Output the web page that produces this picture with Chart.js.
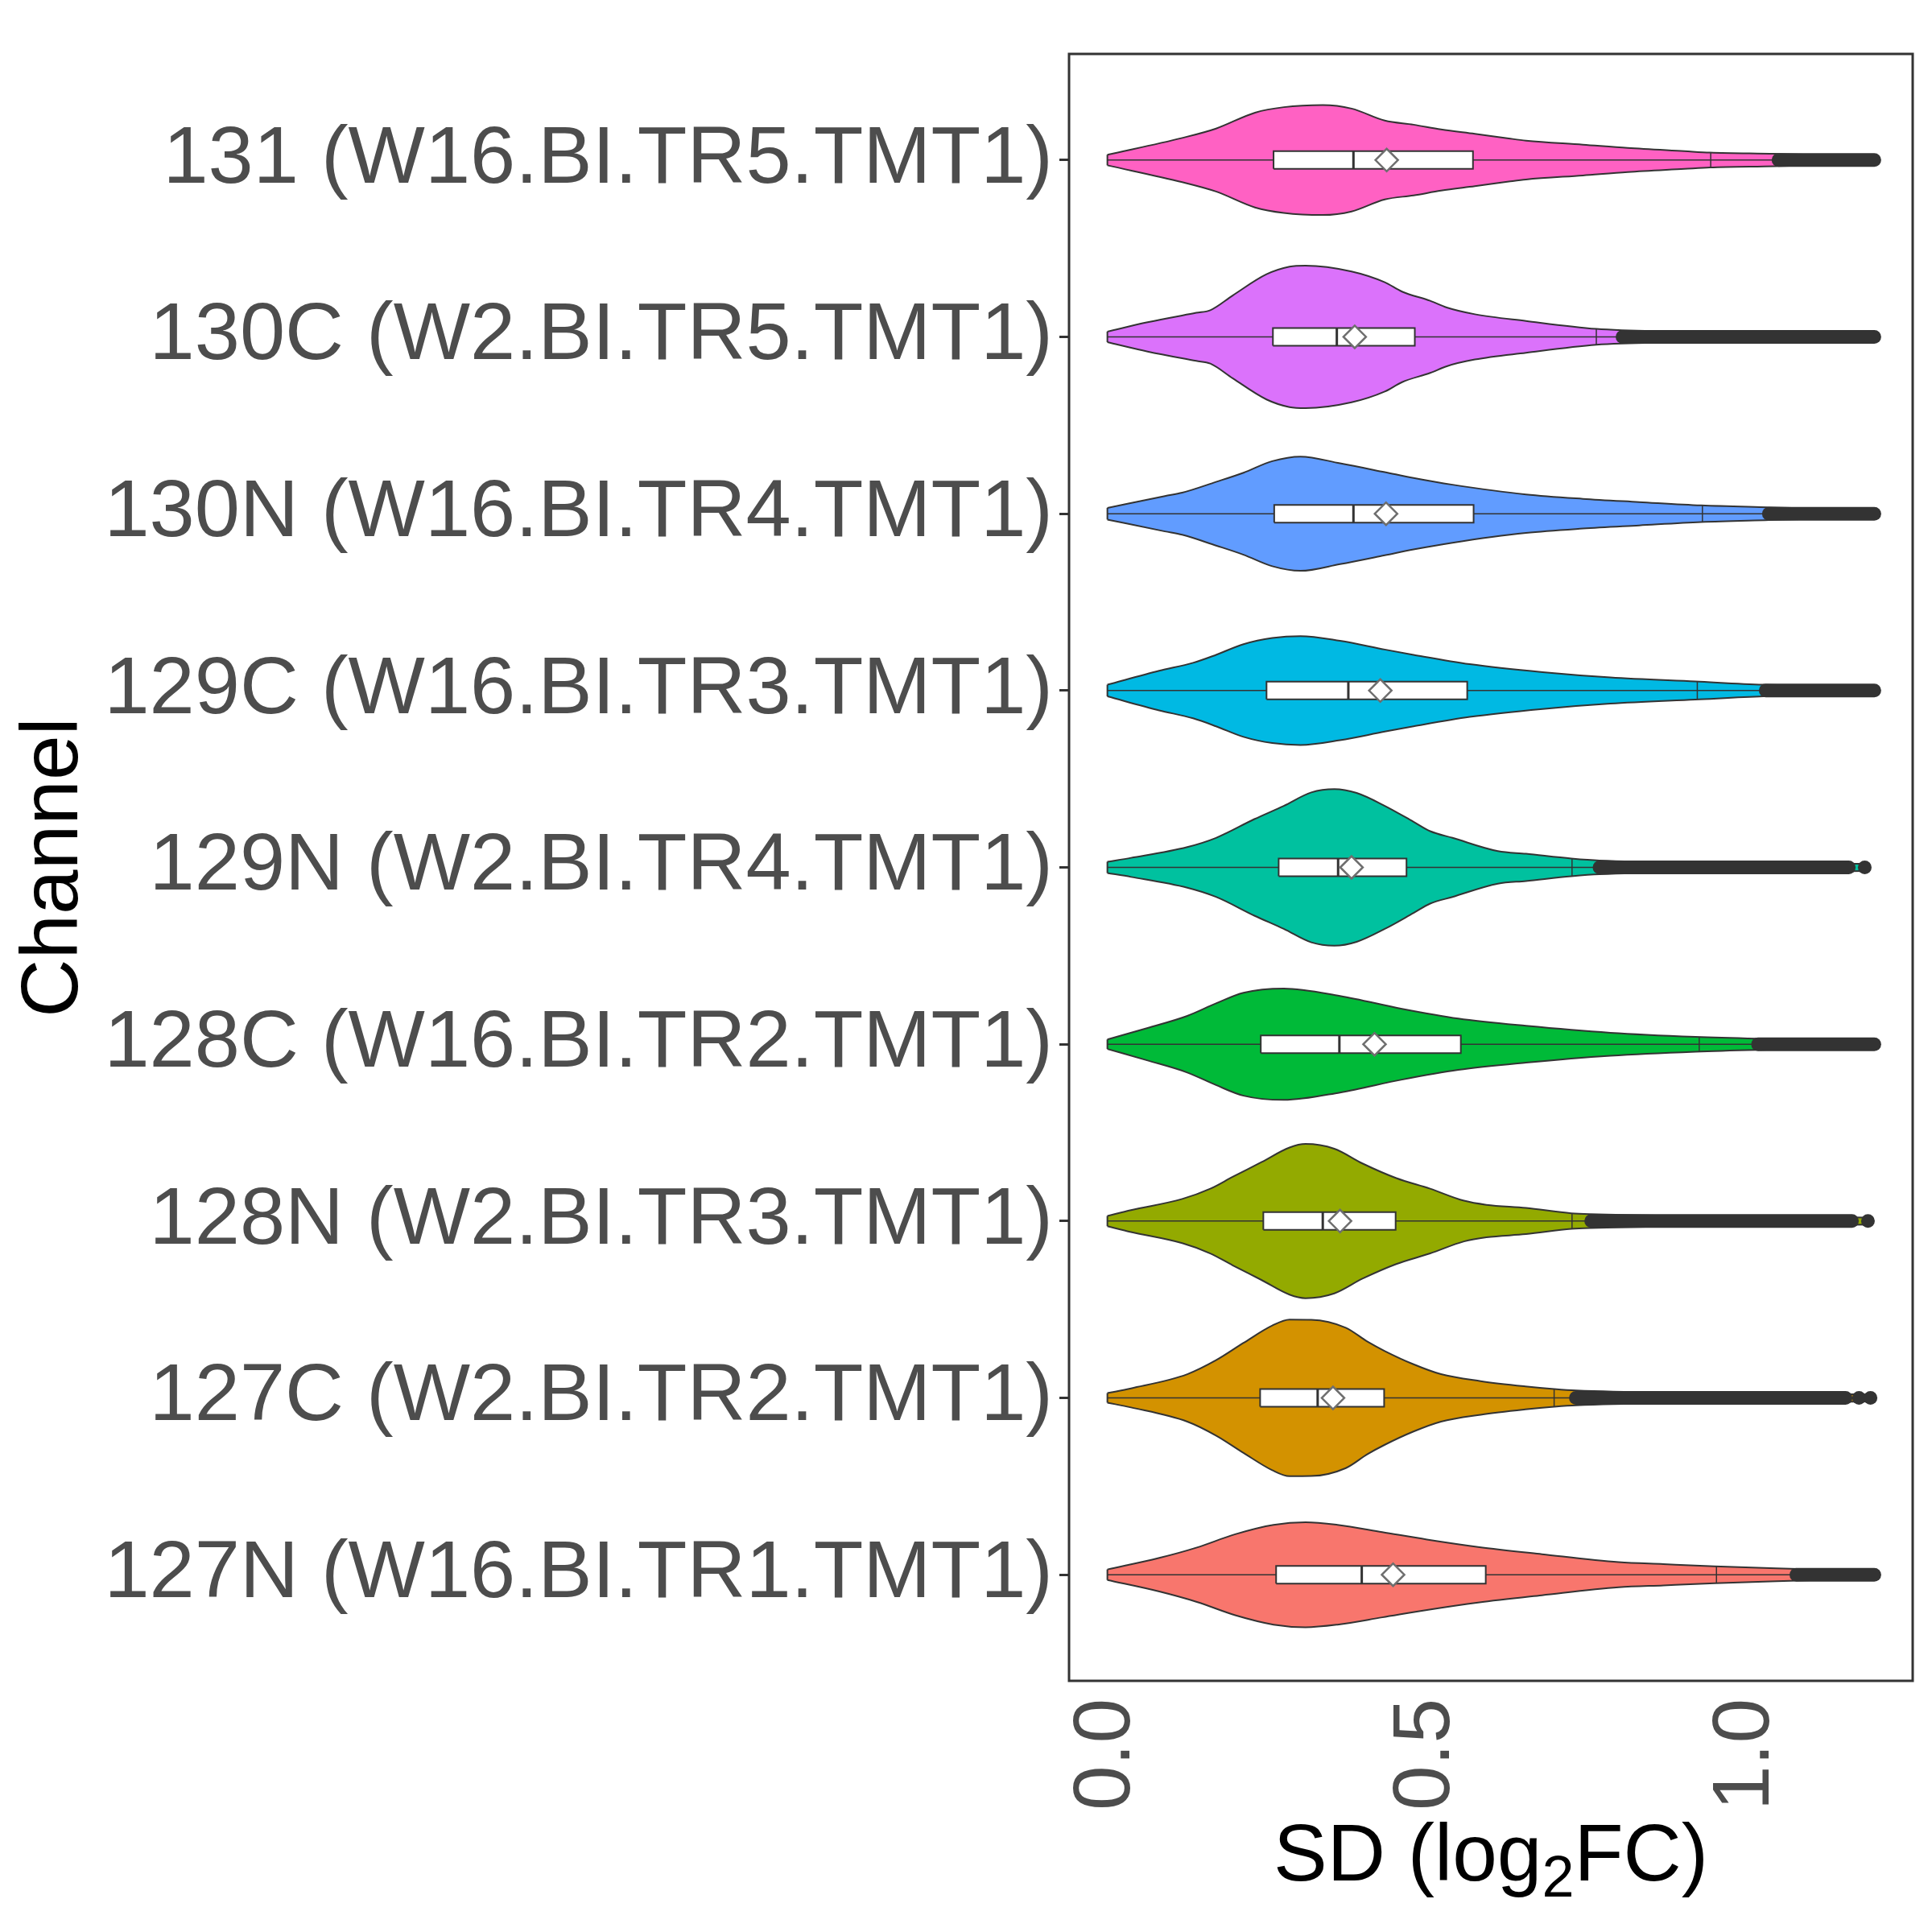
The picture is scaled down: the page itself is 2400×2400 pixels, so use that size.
<!DOCTYPE html>
<html>
<head>
<meta charset="utf-8">
<script src="https://cdn.jsdelivr.net/npm/chart.js@4.4.1/dist/chart.umd.min.js"></script>
<style>
    html, body { margin: 0; padding: 0; background: #ffffff; }
    #wrap { width: 2400px; height: 2400px; }
</style>
</head>
<body>
<div id="wrap"><canvas id="violinChart" width="2400" height="2400"></canvas></div>
<script>
// Channels, bottom to top (y = 1 .. 9)
var channels = [
    '127N (W16.BI.TR1.TMT1)',
    '127C (W2.BI.TR2.TMT1)',
    '128N (W2.BI.TR3.TMT1)',
    '128C (W16.BI.TR2.TMT1)',
    '129N (W2.BI.TR4.TMT1)',
    '129C (W16.BI.TR3.TMT1)',
    '130N (W16.BI.TR4.TMT1)',
    '130C (W2.BI.TR5.TMT1)',
    '131 (W16.BI.TR5.TMT1)'
];
var fillColors = ['#F8766D', '#D39200', '#93AA00', '#00BA38', '#00C19F', '#00B9E3', '#619CFF', '#DB72FB', '#FF61C3'];
var xTicks = [0, 0.5, 1.0];

// violin outline: SD values and half-width (in category units)
var densitySD = [
    [0, 0.08, 0.14, 0.2, 0.26, 0.31, 0.36, 0.43, 0.5, 0.58, 0.68, 0.8, 0.87, 0.95, 1.08, 1.2],
    [0, 0.037, 0.125, 0.17, 0.213, 0.258, 0.285, 0.319, 0.373, 0.407, 0.434, 0.479, 0.522, 0.584, 0.654, 0.699, 0.733, 1.194],
    [0, 0.037, 0.117, 0.161, 0.196, 0.241, 0.285, 0.31, 0.355, 0.399, 0.452, 0.505, 0.558, 0.593, 0.655, 0.726, 0.756, 1.19],
    [0, 0.063, 0.125, 0.17, 0.213, 0.276, 0.364, 0.461, 0.549, 0.655, 0.787, 0.92, 1.017, 1.2],
    [0, 0.037, 0.125, 0.17, 0.23, 0.276, 0.319, 0.355, 0.39, 0.434, 0.479, 0.505, 0.54, 0.611, 0.655, 0.726, 0.77, 1.185],
    [0, 0.081, 0.134, 0.17, 0.213, 0.258, 0.302, 0.364, 0.434, 0.479, 0.567, 0.681, 0.787, 0.92, 1.026, 1.2],
    [0, 0.09, 0.117, 0.17, 0.213, 0.258, 0.302, 0.364, 0.434, 0.479, 0.54, 0.655, 0.744, 0.832, 0.929, 1.035, 1.2],
    [0, 0.063, 0.139, 0.161, 0.196, 0.249, 0.285, 0.31, 0.382, 0.434, 0.461, 0.505, 0.531, 0.575, 0.655, 0.765, 0.805, 1.2],
    [0, 0.117, 0.17, 0.231, 0.276, 0.337, 0.382, 0.434, 0.479, 0.522, 0.575, 0.628, 0.655, 0.744, 0.814, 0.903, 0.943, 1.044, 1.2]
];
var densityHalf = [
    [0.03, 0.094, 0.154, 0.229, 0.282, 0.297, 0.282, 0.241, 0.199, 0.157, 0.116, 0.071, 0.06, 0.048, 0.033, 0.02],
    [0.027, 0.054, 0.134, 0.213, 0.311, 0.409, 0.443, 0.442, 0.397, 0.318, 0.265, 0.19, 0.134, 0.095, 0.065, 0.05, 0.042, 0.02],
    [0.029, 0.062, 0.125, 0.183, 0.25, 0.333, 0.416, 0.436, 0.409, 0.326, 0.243, 0.183, 0.115, 0.092, 0.074, 0.044, 0.039, 0.02],
    [0.027, 0.092, 0.16, 0.231, 0.291, 0.315, 0.273, 0.2, 0.145, 0.104, 0.065, 0.042, 0.032, 0.02],
    [0.032, 0.054, 0.115, 0.167, 0.273, 0.348, 0.424, 0.443, 0.421, 0.348, 0.258, 0.205, 0.167, 0.092, 0.077, 0.05, 0.039, 0.02],
    [0.033, 0.112, 0.157, 0.202, 0.262, 0.297, 0.308, 0.281, 0.232, 0.202, 0.149, 0.104, 0.074, 0.051, 0.033, 0.02],
    [0.033, 0.1, 0.119, 0.18, 0.232, 0.297, 0.323, 0.285, 0.235, 0.202, 0.164, 0.109, 0.084, 0.066, 0.047, 0.036, 0.02],
    [0.03, 0.083, 0.136, 0.151, 0.234, 0.354, 0.397, 0.403, 0.37, 0.309, 0.256, 0.204, 0.166, 0.128, 0.09, 0.045, 0.038, 0.02],
    [0.03, 0.125, 0.178, 0.268, 0.299, 0.311, 0.291, 0.223, 0.2, 0.173, 0.148, 0.122, 0.11, 0.087, 0.068, 0.05, 0.042, 0.035, 0.02]
];

// boxplot summary per channel
var boxQ1     = [0.264, 0.239, 0.244, 0.240, 0.268, 0.249, 0.261, 0.259, 0.260];
var boxMedian = [0.398, 0.329, 0.337, 0.363, 0.361, 0.377, 0.385, 0.359, 0.385];
var boxQ3     = [0.592, 0.433, 0.451, 0.553, 0.468, 0.563, 0.573, 0.481, 0.572];
var boxMean   = [0.447, 0.353, 0.364, 0.418, 0.382, 0.427, 0.436, 0.387, 0.437];
var quantileMark = [0.953, 0.699, 0.727, 0.926, 0.727, 0.923, 0.931, 0.765, 0.944];
var outlierStart = [1.078, 0.733, 0.757, 1.018, 0.770, 1.030, 1.035, 0.806, 1.050];
var outlierEnd   = [1.200, 1.155, 1.165, 1.200, 1.160, 1.200, 1.200, 1.200, 1.200];
var outlierExtra = [[], [1.176, 1.194], [1.19], [], [1.185], [], [], [], []];

var INK = '#333333';
var BOX_HALF = 0.05;
var FONT = 'Liberation Sans';

function halfAt(i, sd) {
    var xs = densitySD[i], hs = densityHalf[i];
    for (var k = 1; k < xs.length; k++) {
        if (sd <= xs[k]) {
            var t = (sd - xs[k - 1]) / (xs[k] - xs[k - 1]);
            return hs[k - 1] + t * (hs[k] - hs[k - 1]);
        }
    }
    return hs[hs.length - 1];
}

function lineSet(data, extra) {
    var ds = {
        data: data,
        showLine: true,
        pointRadius: 0,
        borderColor: INK,
        borderWidth: 2,
        fill: false,
        tension: 0
    };
    for (var key in extra) ds[key] = extra[key];
    return ds;
}

var datasets = [];
channels.forEach(function (name, i) {
    var c = i + 1;
    var upper = densitySD[i].map(function (sd, k) { return { x: sd, y: c + densityHalf[i][k] }; });
    var lower = densitySD[i].map(function (sd, k) { return { x: sd, y: c - densityHalf[i][k] }; });

    // violin body
    datasets.push(lineSet(upper, { cubicInterpolationMode: 'monotone', order: 30 }));
    datasets.push(lineSet(lower, { cubicInterpolationMode: 'monotone', order: 30, fill: '-1', backgroundColor: fillColors[i] }));
    datasets.push(lineSet([{ x: 0, y: c - densityHalf[i][0] }, { x: 0, y: c + densityHalf[i][0] }], { order: 29 }));

    // whisker line and quantile mark
    datasets.push(lineSet([{ x: 0, y: c }, { x: outlierStart[i], y: c }], { borderWidth: 1.5, order: 20 }));
    var mh = halfAt(i, quantileMark[i]);
    datasets.push(lineSet([{ x: quantileMark[i], y: c - mh }, { x: quantileMark[i], y: c + mh }], { borderWidth: 1.5, order: 20 }));

    // box
    datasets.push(lineSet([
        { x: boxQ1[i], y: c - BOX_HALF }, { x: boxQ3[i], y: c - BOX_HALF },
        { x: boxQ3[i], y: c + BOX_HALF }, { x: boxQ1[i], y: c + BOX_HALF },
        { x: boxQ1[i], y: c - BOX_HALF }
    ], { fill: 'shape', backgroundColor: '#ffffff', order: 10 }));
    datasets.push(lineSet([{ x: boxMedian[i], y: c - BOX_HALF }, { x: boxMedian[i], y: c + BOX_HALF }], { borderWidth: 3, order: 9 }));

    // mean
    datasets.push({
        data: [{ x: boxMean[i], y: c }],
        showLine: false,
        pointStyle: 'rectRot',
        pointRadius: 14,
        backgroundColor: '#ffffff',
        borderColor: '#6E6E6E',
        borderWidth: 2.5,
        order: 5
    });

    // outliers
    datasets.push(lineSet([{ x: outlierStart[i], y: c }, { x: outlierEnd[i], y: c }], { borderWidth: 17, borderCapStyle: 'round', order: 2 }));
    if (outlierExtra[i].length) {
        datasets.push({
            data: outlierExtra[i].map(function (v) { return { x: v, y: c }; }),
            showLine: false,
            pointRadius: 8.5,
            backgroundColor: INK,
            borderWidth: 0,
            order: 2
        });
    }
});

var panelBorder = {
    id: 'panelBorder',
    afterDatasetsDraw: function (chart) {
        var a = chart.chartArea, ctx = chart.ctx;
        ctx.save();
        ctx.strokeStyle = INK;
        ctx.lineWidth = 3;
        ctx.strokeRect(a.left, a.top, a.right - a.left, a.bottom - a.top);
        ctx.restore();
    }
};

// x title with a real subscript: SD (log2FC)
var xTitle = {
    id: 'xTitle',
    afterDraw: function (chart) {
        var a = chart.chartArea, ctx = chart.ctx;
        var parts = [
            { t: 'SD (log', size: 100, dy: 0 },
            { t: '2', size: 72, dy: 20 },
            { t: 'FC)', size: 100, dy: 0 }
        ];
        ctx.save();
        ctx.fillStyle = '#000000';
        ctx.textBaseline = 'alphabetic';
        ctx.textAlign = 'left';
        var total = 0;
        parts.forEach(function (p) {
            ctx.font = p.size + 'px "' + FONT + '"';
            p.w = ctx.measureText(p.t).width;
            total += p.w;
        });
        var x = (a.left + a.right) / 2 - total / 2;
        var base = 2336;
        parts.forEach(function (p) {
            ctx.font = p.size + 'px "' + FONT + '"';
            ctx.fillText(p.t, x, base + p.dy);
            x += p.w;
        });
        ctx.restore();
    }
};

function noAutoPadding(scale) {
    scale.paddingLeft = 0;
    scale.paddingRight = 0;
    scale.paddingTop = 0;
    scale.paddingBottom = 0;
}

var violinChart = new Chart(document.getElementById('violinChart'), {
    type: 'scatter',
    data: { datasets: datasets },
    options: {
        responsive: false,
        animation: false,
        devicePixelRatio: 1,
        layout: { padding: { left: 0, right: 24, top: 67, bottom: 0 } },
        plugins: { legend: { display: false }, tooltip: { enabled: false } },
        scales: {
            x: {
                type: 'linear',
                min: -0.06,
                max: 1.26,
                afterBuildTicks: function (scale) {
                    scale.ticks = xTicks.map(function (v) { return { value: v }; });
                },
                ticks: {
                    autoSkip: false,
                    minRotation: 90,
                    maxRotation: 90,
                    padding: 22,
                    color: '#4D4D4D',
                    font: { family: FONT, size: 100 },
                    callback: function (v) { return v.toFixed(1); }
                },
                grid: { display: true, drawOnChartArea: false, drawTicks: false },
                border: { display: false },
                afterFit: function (scale) {
                    scale.height = 2400 - 2088;
                    noAutoPadding(scale);
                }
            },
            y: {
                type: 'linear',
                min: 0.4,
                max: 9.6,
                afterBuildTicks: function (scale) {
                    scale.ticks = channels.map(function (n, i) { return { value: i + 1 }; });
                },
                ticks: {
                    autoSkip: false,
                    padding: 8,
                    color: '#4D4D4D',
                    font: { family: FONT, size: 101 },
                    callback: function (v) { return channels[Math.round(v) - 1]; }
                },
                grid: { display: true, drawOnChartArea: false, drawTicks: true, tickLength: 12, color: INK, lineWidth: 3 },
                border: { display: false },
                title: {
                    display: true,
                    text: 'Channel',
                    color: '#000000',
                    font: { family: FONT, size: 100 },
                    padding: { top: 8, bottom: 0 }
                },
                afterFit: function (scale) {
                    scale.width = 1328;
                    noAutoPadding(scale);
                }
            }
        }
    },
    plugins: [panelBorder, xTitle]
});
</script>
</body>
</html>
